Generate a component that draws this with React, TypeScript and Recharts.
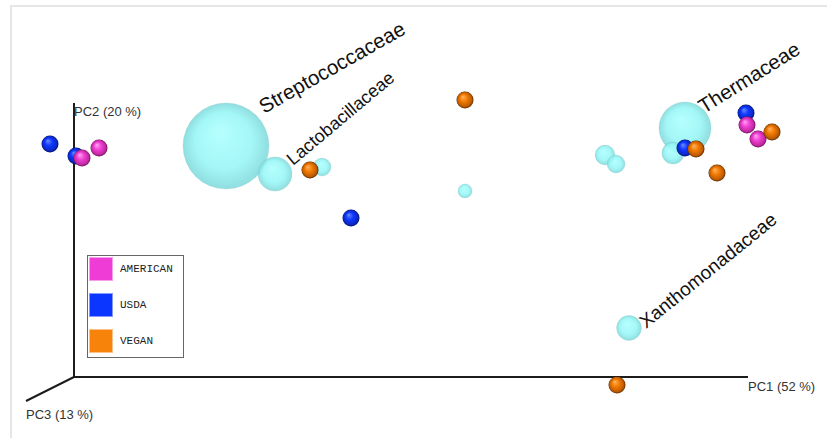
import React from 'react';
import {
  ScatterChart,
  Scatter,
  XAxis,
  YAxis,
  ZAxis,
  ReferenceLine,
  ReferenceDot,
  Legend
} from 'recharts';

// sample scores, projected onto the screen plane (PC1 across, PC2 up)
const americanPC1 = [2.5, 0.8, 67.3, 68.4];
const americanPC2 = [22.9, 21.9, 25.2, 23.8];
const usdaPC1 = [-2.4, 0.2, 27.7, 61.1, 67.2];
const usdaPC2 = [23.3, 22.1, 15.9, 22.9, 26.4];
const veganPC1 = [39.1, 23.6, 62.2, 64.3, 69.8, 54.3];
const veganPC2 = [27.7, 20.7, 22.8, 20.4, 24.5, -0.8];

// taxa (biplot arrows drawn as spheres sized by relative abundance)
const taxonNames = ['Streptococcaceae', 'Lactobacillaceae', 'Thermaceae', 'Xanthomonadaceae', '', '', '', '', ''];
const taxonPC1 = [15.2, 20.1, 61.1, 55.5, 24.8, 39.1, 53.1, 54.2, 59.9];
const taxonPC2 = [23.1, 20.3, 24.9, 4.9, 21.0, 18.6, 22.2, 21.3, 22.4];
const taxonAbundance = [0.3, 0.047, 0.11, 0.025, 0.013, 0.008, 0.016, 0.013, 0.02];

const groupNames = ['AMERICAN', 'USDA', 'VEGAN'];
const axisTitles = ['PC1 (52 %)', 'PC2 (20 %)', 'PC3 (13 %)'];

// far ends of the three drawn axes
const pc1AxisEnd = { pc1: 67.4, pc2: 0 };
const pc2AxisEnd = { pc1: 0, pc2: 27.4 };
const pc3AxisEnd = { pc1: -4.8, pc2: -2.4 };

const toPoints = (xs: number[], ys: number[]) => xs.map((x, i) => ({ pc1: x, pc2: ys[i] }));

const americanData = toPoints(americanPC1, americanPC2);
const usdaData = toPoints(usdaPC1, usdaPC2);
const veganData = toPoints(veganPC1, veganPC2);
const taxaData = taxonNames.map((name, i) => ({
  name,
  pc1: taxonPC1[i],
  pc2: taxonPC2[i],
  abundance: taxonAbundance[i]
}));

const swatch: Record<string, string> = {
  AMERICAN: '#ef3cd6',
  USDA: '#0a36ff',
  VEGAN: '#f7830a'
};

// where each taxon name sits relative to its sphere
const labelLayout: Record<string, { dx: number; dy: number; angle: number; size: number }> = {
  Streptococcaceae: { dx: 38, dy: -32, angle: 29.5, size: 20.5 },
  Lactobacillaceae: { dx: 18, dy: -8, angle: 40, size: 18 },
  Thermaceae: { dx: 19, dy: -14, angle: 32, size: 20.5 },
  Xanthomonadaceae: { dx: 17, dy: 1, angle: 39, size: 19 }
};

const SANS = '"Liberation Sans", Arial, Helvetica, sans-serif';

const sphere = (gradId: string) => (props: any) => {
  const { cx, cy } = props;
  if (cx == null || cy == null) return <g />;
  return <circle cx={cx} cy={cy} r={8.5} fill={`url(#${gradId})`} />;
};

const TaxonSphere = (props: any) => {
  const { cx, cy, width, payload } = props;
  if (cx == null || cy == null) return <g />;
  const r = width / 2;
  const lay = labelLayout[payload.name];
  return (
    <g>
      <circle
        cx={cx}
        cy={cy}
        r={r}
        fill="url(#taxonGrad)"
        fillOpacity={0.86}
        stroke="#7fbcbc"
        strokeOpacity={0.35}
        strokeWidth={0.6}
      />
      {lay && (
        <text
          x={cx + lay.dx}
          y={cy + lay.dy}
          transform={`rotate(${-lay.angle} ${cx + lay.dx} ${cy + lay.dy})`}
          fontFamily={SANS}
          fontSize={lay.size}
          fill="#111"
        >
          {payload.name}
        </text>
      )}
    </g>
  );
};

const AxisTitle = (props: any) => {
  const { viewBox, text, dx = 0, dy = 0 } = props;
  if (!viewBox) return null;
  return (
    <text x={viewBox.x + dx} y={viewBox.y + dy} fontFamily={SANS} fontSize={13} fill="#333">
      {text}
    </text>
  );
};

const GroupLegend = (props: any) => {
  const items = (props.payload || [])
    .filter((p: any) => groupNames.includes(p.value))
    .sort((a: any, b: any) => groupNames.indexOf(a.value) - groupNames.indexOf(b.value));
  return (
    <div
      style={{
        border: '1px solid #666',
        background: '#fff',
        padding: '1px 0 4px 1px',
        width: 94
      }}
    >
      {items.map((item: any, i: number) => (
        <div
          key={item.value}
          style={{ display: 'flex', alignItems: 'center', height: 24, marginTop: i === 0 ? 0 : 12 }}
        >
          <span
            style={{
              width: 24,
              height: 24,
              background: swatch[item.value],
              boxSizing: 'border-box',
              border: '1px solid rgba(255,255,255,0.5)'
            }}
          />
          <span
            style={{
              marginLeft: 7,
              fontFamily: '"Liberation Mono", "DejaVu Sans Mono", monospace',
              fontSize: 11,
              color: '#222'
            }}
          >
            {item.value}
          </span>
        </div>
      ))}
    </div>
  );
};

export default function App() {
  return (
    <div style={{ position: 'absolute', left: 0, top: 0, width: 827, height: 438, background: '#fff' }}>
      {/* viewer frame */}
      <div
        style={{
          position: 'absolute',
          left: 10,
          top: 5,
          right: 0,
          bottom: 0,
          borderTop: '2px solid #e6e6e6',
          borderLeft: '2px solid #e6e6e6'
        }}
      />
      <ScatterChart width={827} height={438} margin={{ top: 0, right: 0, bottom: 0, left: 0 }}>
        <defs>
          <radialGradient id="taxonGrad" cx="50%" cy="50%" r="50%" fx="42%" fy="32%">
            <stop offset="0%" stopColor="#aaffff" />
            <stop offset="65%" stopColor="#95f6f6" />
            <stop offset="100%" stopColor="#7ed8da" />
          </radialGradient>
          <radialGradient id="americanGrad" cx="50%" cy="50%" r="50%" fx="36%" fy="30%">
            <stop offset="0%" stopColor="#ffa6f4" />
            <stop offset="45%" stopColor="#f040d4" />
            <stop offset="85%" stopColor="#c0289f" />
            <stop offset="100%" stopColor="#6a1258" />
          </radialGradient>
          <radialGradient id="usdaGrad" cx="50%" cy="50%" r="50%" fx="36%" fy="30%">
            <stop offset="0%" stopColor="#6a8cff" />
            <stop offset="45%" stopColor="#1038ff" />
            <stop offset="85%" stopColor="#0a26c4" />
            <stop offset="100%" stopColor="#03105c" />
          </radialGradient>
          <radialGradient id="veganGrad" cx="50%" cy="50%" r="50%" fx="36%" fy="30%">
            <stop offset="0%" stopColor="#ffb566" />
            <stop offset="45%" stopColor="#f27a00" />
            <stop offset="85%" stopColor="#bc5a00" />
            <stop offset="100%" stopColor="#552600" />
          </radialGradient>
        </defs>
        <XAxis type="number" dataKey="pc1" domain={[-7.4, 75.3]} hide allowDataOverflow />
        <YAxis type="number" dataKey="pc2" domain={[-6.1, 37.7]} hide allowDataOverflow />
        <ZAxis zAxisId="taxa" type="number" dataKey="abundance" domain={[0, 0.3]} range={[0, Math.PI * 43 * 43]} />

        {/* PC axes */}
        <ReferenceLine
          segment={[{ x: 0, y: 0 }, { x: pc1AxisEnd.pc1, y: pc1AxisEnd.pc2 }]}
          stroke="#1c1c1c"
          strokeWidth={2}
          ifOverflow="visible"
        />
        <ReferenceLine
          segment={[{ x: 0, y: 0 }, { x: pc2AxisEnd.pc1, y: pc2AxisEnd.pc2 }]}
          stroke="#1c1c1c"
          strokeWidth={2}
          ifOverflow="visible"
        />
        <ReferenceLine
          segment={[{ x: 0, y: 0 }, { x: pc3AxisEnd.pc1, y: pc3AxisEnd.pc2 }]}
          stroke="#1c1c1c"
          strokeWidth={2}
          ifOverflow="visible"
        />
        <ReferenceDot
          x={pc1AxisEnd.pc1}
          y={pc1AxisEnd.pc2}
          r={0}
          stroke="none"
          ifOverflow="visible"
          label={<AxisTitle text={axisTitles[0]} dx={0} dy={14} />}
        />
        <ReferenceDot
          x={pc2AxisEnd.pc1}
          y={pc2AxisEnd.pc2}
          r={0}
          stroke="none"
          ifOverflow="visible"
          label={<AxisTitle text={axisTitles[1]} dx={0} dy={13} />}
        />
        <ReferenceDot
          x={pc3AxisEnd.pc1}
          y={pc3AxisEnd.pc2}
          r={0}
          stroke="none"
          ifOverflow="visible"
          label={<AxisTitle text={axisTitles[2]} dx={0} dy={18} />}
        />

        <Scatter
          name="taxa"
          data={taxaData}
          zAxisId="taxa"
          legendType="none"
          shape={<TaxonSphere />}
          isAnimationActive={false}
        />
        <Scatter
          name="USDA"
          data={usdaData}
          fill={swatch.USDA}
          shape={sphere('usdaGrad')}
          isAnimationActive={false}
        />
        <Scatter
          name="AMERICAN"
          data={americanData}
          fill={swatch.AMERICAN}
          shape={sphere('americanGrad')}
          isAnimationActive={false}
        />
        <Scatter
          name="VEGAN"
          data={veganData}
          fill={swatch.VEGAN}
          shape={sphere('veganGrad')}
          isAnimationActive={false}
        />

        <Legend
          layout="horizontal"
          verticalAlign="middle"
          align="center"
          content={<GroupLegend />}
          wrapperStyle={{ left: 87, top: 255, width: 96, height: 'auto' }}
        />
      </ScatterChart>
    </div>
  );
}
